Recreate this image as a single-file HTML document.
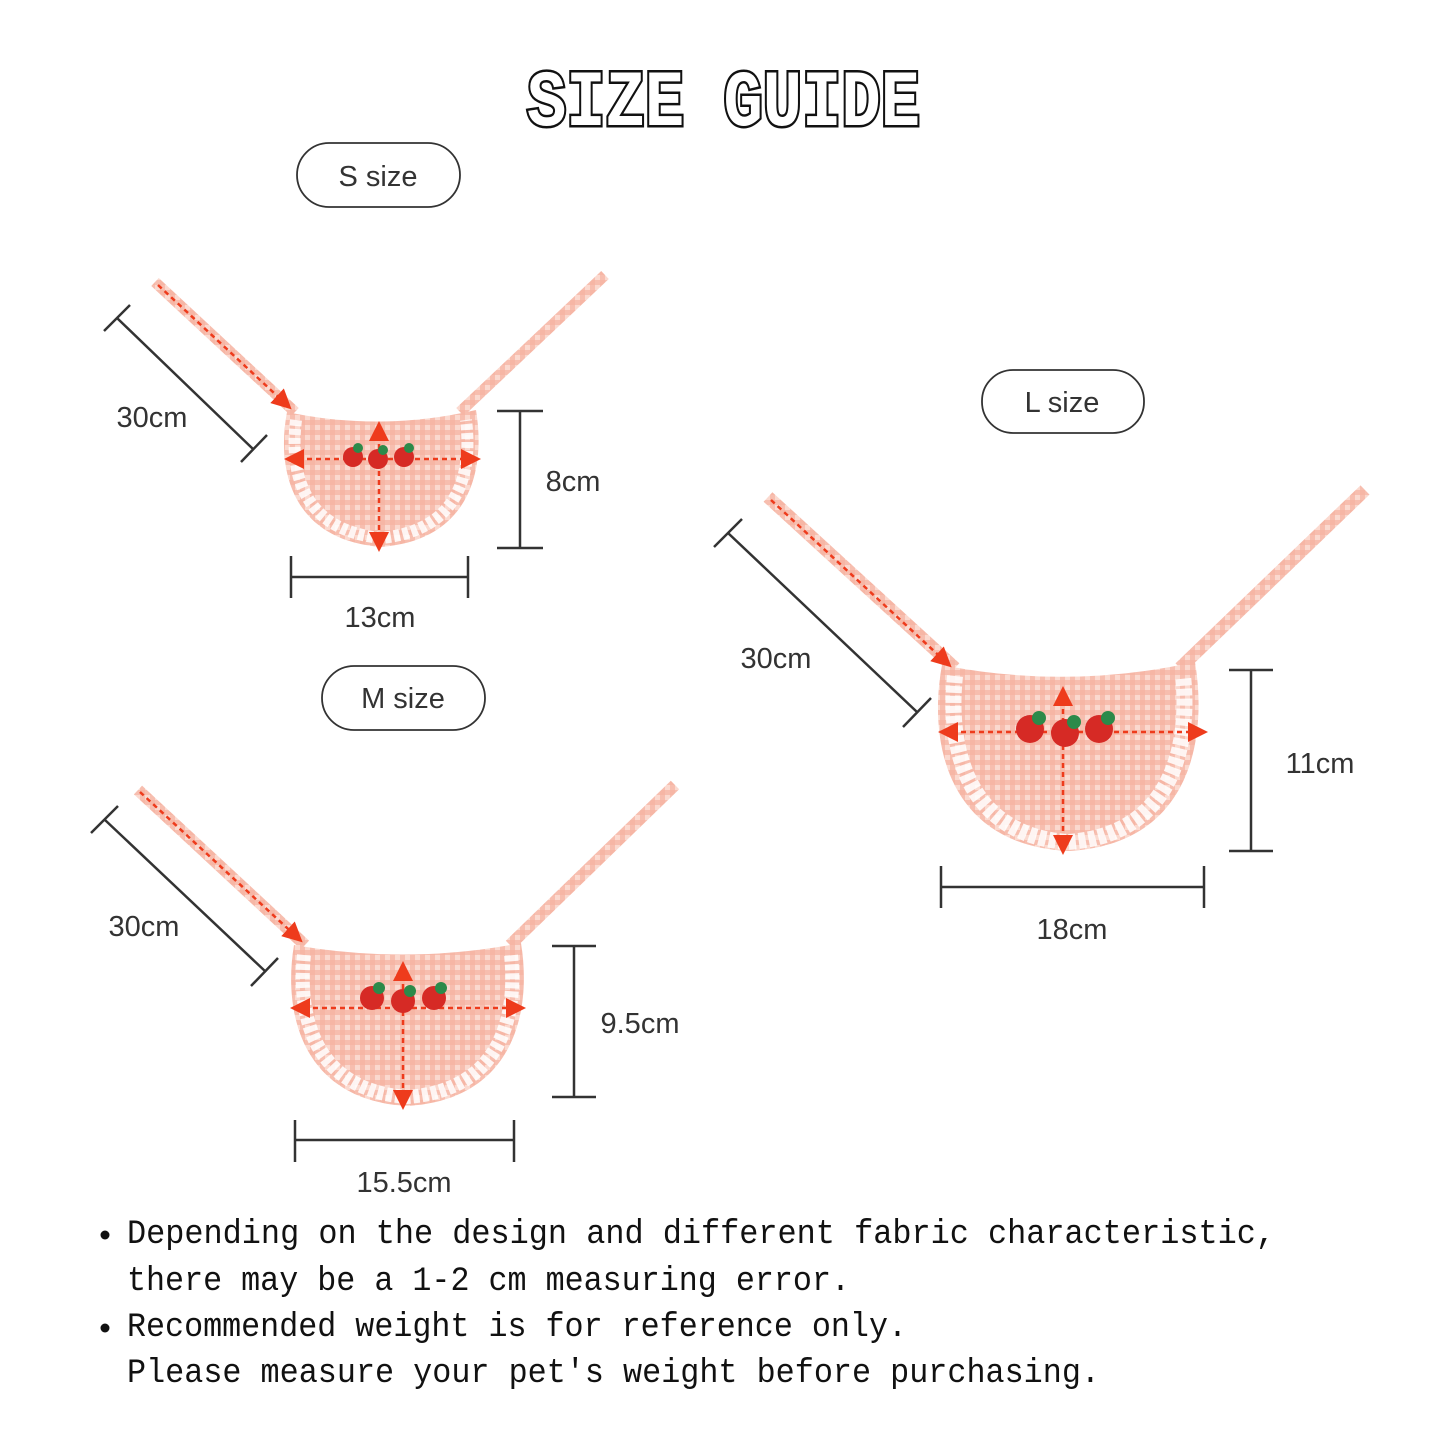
<!DOCTYPE html>
<html><head><meta charset="utf-8"><style>
html,body{margin:0;padding:0;background:#fff;}
svg{display:block}
.hand{font-family:"Liberation Mono",monospace;}
.lbl{font-family:"Liberation Sans",sans-serif;font-size:29px;fill:#333;}
</style></head><body>
<svg width="1445" height="1445" viewBox="0 0 1445 1445" xmlns="http://www.w3.org/2000/svg">
<defs>
<pattern id="ging" width="10" height="10" patternUnits="userSpaceOnUse">
<rect width="10" height="10" fill="#fbd9cf"/>
<rect width="5" height="10" fill="#f6b3a2" opacity="0.7"/>
<rect width="10" height="5" fill="#f6b3a2" opacity="0.7"/>
</pattern>
<marker id="ah" markerWidth="8" markerHeight="8" refX="6" refY="4" orient="auto"><path d="M0,0 L8,4 L0,8 Z" fill="#ee3b1c"/></marker>
<marker id="ahs" markerWidth="8" markerHeight="8" refX="2" refY="4" orient="auto"><path d="M8,0 L0,4 L8,8 Z" fill="#ee3b1c"/></marker>
</defs>

<!-- Title -->
<text x="527" y="125" textLength="393" lengthAdjust="spacingAndGlyphs" class="hand" font-size="80" font-weight="bold" fill="#fff" stroke="#111" stroke-width="5" paint-order="stroke">SIZE GUIDE</text>

<!-- Pills -->
<rect x="297" y="143" width="163" height="64" rx="32" fill="#fff" stroke="#333" stroke-width="1.8"/>
<text x="378" y="186" text-anchor="middle" class="lbl">S size</text>
<rect x="982" y="370" width="162" height="63" rx="31" fill="#fff" stroke="#333" stroke-width="1.8"/>
<text x="1062" y="412" text-anchor="middle" class="lbl">L size</text>
<rect x="322" y="666" width="163" height="64" rx="32" fill="#fff" stroke="#333" stroke-width="1.8"/>
<text x="403" y="708" text-anchor="middle" class="lbl">M size</text>

<!-- S bib -->
<g>
<line x1="155" y1="282" x2="295" y2="412" stroke="url(#ging)" stroke-width="11"/>
<line x1="605" y1="275" x2="460" y2="412" stroke="url(#ging)" stroke-width="11"/>
<path d="M287,412 Q381,432 476,410 C486,470 470,540 381,547 C292,540 276,470 287,412 Z" fill="url(#ging)"/>
<path d="M296,420 C290,470 300,530 381,538 C462,530 472,470 466,420" fill="none" stroke="#fff" stroke-width="12" stroke-dasharray="6 3" opacity="0.85"/>
<line x1="158" y1="285" x2="288" y2="406" stroke="#ee3b1c" stroke-width="2.5" stroke-dasharray="5 4" marker-end="url(#ah)"/>
<line x1="289" y1="459" x2="476" y2="459" stroke="#ee3b1c" stroke-width="2.5" stroke-dasharray="5 4" marker-start="url(#ahs)" marker-end="url(#ah)"/>
<line x1="379" y1="426" x2="379" y2="547" stroke="#ee3b1c" stroke-width="2.5" stroke-dasharray="5 4" marker-start="url(#ahs)" marker-end="url(#ah)"/>
<g fill="#d62a25"><circle cx="353" cy="457" r="10"/><circle cx="378" cy="459" r="10"/><circle cx="404" cy="457" r="10"/></g>
<g fill="#2c8a4a"><circle cx="358" cy="448" r="5"/><circle cx="383" cy="450" r="5"/><circle cx="409" cy="448" r="5"/></g>
</g>
<g stroke="#333" stroke-width="2.5" fill="none">
<line x1="117" y1="318" x2="253" y2="449"/><line x1="104" y1="331" x2="130" y2="305"/><line x1="241" y1="462" x2="267" y2="435"/>
<line x1="520" y1="411" x2="520" y2="548"/><line x1="497" y1="411" x2="543" y2="411"/><line x1="497" y1="548" x2="543" y2="548"/>
<line x1="291" y1="577" x2="468" y2="577"/><line x1="291" y1="556" x2="291" y2="598"/><line x1="468" y1="556" x2="468" y2="598"/>
</g>
<text x="152" y="427" text-anchor="middle" class="lbl">30cm</text>
<text x="573" y="491" text-anchor="middle" class="lbl">8cm</text>
<text x="380" y="627" text-anchor="middle" class="lbl">13cm</text>

<!-- M bib -->
<g>
<line x1="138" y1="790" x2="305" y2="945" stroke="url(#ging)" stroke-width="12"/>
<line x1="675" y1="785" x2="510" y2="945" stroke="url(#ging)" stroke-width="12"/>
<path d="M294,945 Q407,965 521,943 C532,1010 515,1100 407,1106 C300,1100 283,1010 294,945 Z" fill="url(#ging)"/>
<path d="M304,955 C298,1010 310,1090 407,1097 C505,1090 517,1010 511,955" fill="none" stroke="#fff" stroke-width="14" stroke-dasharray="6 3" opacity="0.85"/>
<line x1="140" y1="792" x2="299" y2="939" stroke="#ee3b1c" stroke-width="2.5" stroke-dasharray="5 4" marker-end="url(#ah)"/>
<line x1="295" y1="1008" x2="521" y2="1008" stroke="#ee3b1c" stroke-width="2.5" stroke-dasharray="5 4" marker-start="url(#ahs)" marker-end="url(#ah)"/>
<line x1="403" y1="966" x2="403" y2="1105" stroke="#ee3b1c" stroke-width="2.5" stroke-dasharray="5 4" marker-start="url(#ahs)" marker-end="url(#ah)"/>
<g fill="#d62a25"><circle cx="372" cy="998" r="12"/><circle cx="403" cy="1001" r="12"/><circle cx="434" cy="998" r="12"/></g>
<g fill="#2c8a4a"><circle cx="379" cy="988" r="6"/><circle cx="410" cy="991" r="6"/><circle cx="441" cy="988" r="6"/></g>
</g>
<g stroke="#333" stroke-width="2.5" fill="none">
<line x1="105" y1="820" x2="266" y2="972"/><line x1="91" y1="833" x2="118" y2="806"/><line x1="251" y1="986" x2="278" y2="958"/>
<line x1="574" y1="946" x2="574" y2="1097"/><line x1="552" y1="946" x2="596" y2="946"/><line x1="552" y1="1097" x2="596" y2="1097"/>
<line x1="295" y1="1140" x2="514" y2="1140"/><line x1="295" y1="1120" x2="295" y2="1162"/><line x1="514" y1="1120" x2="514" y2="1162"/>
</g>
<text x="144" y="936" text-anchor="middle" class="lbl">30cm</text>
<text x="640" y="1033" text-anchor="middle" class="lbl">9.5cm</text>
<text x="404" y="1192" text-anchor="middle" class="lbl">15.5cm</text>

<!-- L bib -->
<g>
<line x1="768" y1="497" x2="955" y2="668" stroke="url(#ging)" stroke-width="13"/>
<line x1="1365" y1="490" x2="1180" y2="668" stroke="url(#ging)" stroke-width="13"/>
<path d="M942,665 Q1068,690 1195,662 C1208,740 1190,845 1068,851 C946,845 928,740 942,665 Z" fill="url(#ging)"/>
<path d="M955,676 C948,740 962,835 1068,842 C1175,835 1190,740 1183,676" fill="none" stroke="#fff" stroke-width="16" stroke-dasharray="7 3" opacity="0.85"/>
<line x1="771" y1="500" x2="948" y2="664" stroke="#ee3b1c" stroke-width="2.5" stroke-dasharray="5 4" marker-end="url(#ah)"/>
<line x1="943" y1="732" x2="1203" y2="732" stroke="#ee3b1c" stroke-width="2.5" stroke-dasharray="5 4" marker-start="url(#ahs)" marker-end="url(#ah)"/>
<line x1="1063" y1="691" x2="1063" y2="850" stroke="#ee3b1c" stroke-width="2.5" stroke-dasharray="5 4" marker-start="url(#ahs)" marker-end="url(#ah)"/>
<g fill="#d62a25"><circle cx="1030" cy="729" r="14"/><circle cx="1065" cy="733" r="14"/><circle cx="1099" cy="729" r="14"/></g>
<g fill="#2c8a4a"><circle cx="1039" cy="718" r="7"/><circle cx="1074" cy="722" r="7"/><circle cx="1108" cy="718" r="7"/></g>
</g>
<g stroke="#333" stroke-width="2.5" fill="none">
<line x1="728" y1="533" x2="917" y2="712"/><line x1="714" y1="547" x2="742" y2="519"/><line x1="903" y1="727" x2="931" y2="698"/>
<line x1="1251" y1="670" x2="1251" y2="851"/><line x1="1229" y1="670" x2="1273" y2="670"/><line x1="1229" y1="851" x2="1273" y2="851"/>
<line x1="941" y1="887" x2="1204" y2="887"/><line x1="941" y1="866" x2="941" y2="908"/><line x1="1204" y1="866" x2="1204" y2="908"/>
</g>
<text x="776" y="668" text-anchor="middle" class="lbl">30cm</text>
<text x="1320" y="773" text-anchor="middle" class="lbl">11cm</text>
<text x="1072" y="939" text-anchor="middle" class="lbl">18cm</text>

<!-- Notes -->
<g class="hand" font-size="34" fill="#111">
<circle cx="105" cy="1235" r="4.5" fill="#111"/>
<text x="127" y="1243" textLength="1148" lengthAdjust="spacingAndGlyphs">Depending on the design and different fabric characteristic,</text>
<text x="127" y="1290" textLength="723" lengthAdjust="spacingAndGlyphs">there may be a 1-2 cm measuring error.</text>
<circle cx="105" cy="1328" r="4.5" fill="#111"/>
<text x="127" y="1336" textLength="780" lengthAdjust="spacingAndGlyphs">Recommended weight is for reference only.</text>
<text x="127" y="1382" textLength="973" lengthAdjust="spacingAndGlyphs">Please measure your pet's weight before purchasing.</text>
</g>
</svg>
</body></html>
